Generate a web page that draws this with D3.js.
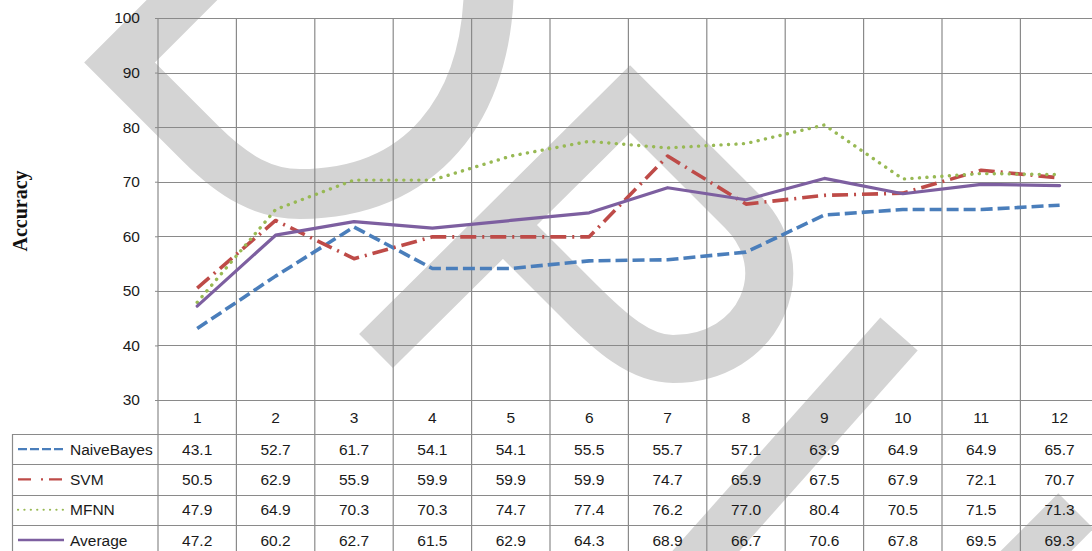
<!DOCTYPE html>
<html>
<head>
<meta charset="utf-8">
<script src="https://cdn.jsdelivr.net/npm/d3@7"></script>
<style>
  html, body { margin: 0; padding: 0; background: #fff; }
  svg { display: block; }
</style>
</head>
<body>
<div id="chart"></div>
<script>
// Accuracy per fold for each classifier
const categories = ['1', '2', '3', '4', '5', '6', '7', '8', '9', '10', '11', '12'];
const naiveBayes = [43.1, 52.7, 61.7, 54.1, 54.1, 55.5, 55.7, 57.1, 63.9, 64.9, 64.9, 65.7];
const svm        = [50.5, 62.9, 55.9, 59.9, 59.9, 59.9, 74.7, 65.9, 67.5, 67.9, 72.1, 70.7];
const mfnn       = [47.9, 64.9, 70.3, 70.3, 74.7, 77.4, 76.2, 77.0, 80.4, 70.5, 71.5, 71.3];
const average    = [47.2, 60.2, 62.7, 61.5, 62.9, 64.3, 68.9, 66.7, 70.6, 67.8, 69.5, 69.3];
const seriesNames = ['NaiveBayes', 'SVM', 'MFNN', 'Average'];
const yTicks = [30, 40, 50, 60, 70, 80, 90, 100];

const W = 1092, H = 551;
const plotLeft = 158, plotTop = 18, plotBottom = 400, colW = 78.4;
const tableLeft = 12, headerBottom = 434, rowH = 30.3;

const series = [
  { name: seriesNames[0], values: naiveBayes, color: '#4a7ebb', width: 3.6, dash: '12 5', cap: 'butt', legendDash: '9 3', legendW: 2.2, legendCap: 'butt' },
  { name: seriesNames[1], values: svm,        color: '#be4b48', width: 3.6, dash: '16 6 2 6', cap: 'butt', legendDash: '13 10 2 6 13', legendW: 2.2, legendCap: 'butt' },
  { name: seriesNames[2], values: mfnn,       color: '#98b954', width: 3.4, dash: '0.1 7.4', cap: 'round', legendDash: '0.1 6.3', legendW: 2.2, legendCap: 'round' },
  { name: seriesNames[3], values: average,    color: '#7d5fa0', width: 3.2, dash: null, cap: 'round', legendDash: null, legendW: 2.4, legendCap: 'butt' }
];

const svg = d3.select('#chart').append('svg')
  .attr('width', W).attr('height', H)
  .attr('font-family', '"Liberation Sans", Arial, sans-serif');

const x = d3.scaleBand().domain(categories)
  .range([plotLeft, plotLeft + colW * categories.length]).paddingInner(0).paddingOuter(0);
const y = d3.scaleLinear().domain([30, 100]).range([plotBottom, plotTop]);

// Background mark strokes
const mark = svg.append('g')
  .attr('fill', 'none').attr('stroke', '#d4d4d4')
  .attr('stroke-linejoin', 'miter').attr('stroke-miterlimit', 10).attr('stroke-linecap', 'butt');
mark.append('path').attr('stroke-width', 50)
  .attr('d', 'M 200,-18 L 119.5,62.5 L 200,143 C 235,178 265,194 300,194 C 420,194 489,110 489,-20');
mark.append('path').attr('stroke-width', 48)
  .attr('d', 'M 376,351 L 630,99 L 742,211 C 800,269 760,359 673,359 C 640,359 610,332 580,302 L 503,225');
mark.append('path').attr('stroke-width', 50)
  .attr('d', 'M 899,334 L 680,580');
mark.append('path').attr('stroke-width', 50)
  .attr('d', 'M 1076,511 L 1000,587');

// Grid
const grid = svg.append('g').attr('stroke', '#8a8a8a').attr('stroke-width', 1.2).attr('fill', 'none');
yTicks.forEach(t => {
  grid.append('line').attr('x1', plotLeft).attr('x2', W + 10)
    .attr('y1', Math.round(y(t)) + 0.5).attr('y2', Math.round(y(t)) + 0.5);
});
const bounds = categories.map(c => x(c)).concat([x.range()[1]]);
bounds.forEach(bx => {
  grid.append('line').attr('x1', bx).attr('x2', bx)
    .attr('y1', plotTop).attr('y2', H + 5);
});
// table rows
for (let r = 0; r <= 4; r++) {
  const ry = Math.round(headerBottom + r * rowH) + 0.5;
  grid.append('line').attr('x1', tableLeft).attr('x2', W + 10).attr('y1', ry).attr('y2', ry);
}
grid.append('line').attr('x1', tableLeft + 0.5).attr('x2', tableLeft + 0.5)
  .attr('y1', headerBottom).attr('y2', H + 5);

// Y axis ticks and labels
const yAxis = d3.axisLeft(y).tickValues(yTicks).tickSize(3).tickPadding(15);
const yg = svg.append('g').attr('transform', `translate(${plotLeft},0)`).call(yAxis);
yg.select('.domain').remove();
yg.selectAll('.tick line').attr('stroke', '#8a8a8a');
yg.selectAll('.tick text')
  .attr('font-family', '"Liberation Sans", Arial, sans-serif')
  .attr('font-size', 15.5).attr('fill', '#1a1a1a');

// Y title
svg.append('text')
  .attr('transform', `translate(27,211) rotate(-90)`)
  .attr('text-anchor', 'middle')
  .attr('font-family', '"Liberation Serif", "Times New Roman", serif')
  .attr('font-weight', 'bold').attr('font-size', 20).attr('fill', '#111')
  .text('Accuracy');

// Category labels (header row of the data table)
const xAxis = d3.axisBottom(x).tickSize(0).tickPadding(0);
const xg = svg.append('g').attr('transform', `translate(0,${plotBottom})`).call(xAxis);
xg.select('.domain').remove();
xg.selectAll('.tick text')
  .attr('font-family', '"Liberation Sans", Arial, sans-serif')
  .attr('font-size', 15.5).attr('fill', '#1a1a1a')
  .attr('dy', null).attr('y', 22.5);

// Lines
const lineGen = d3.line()
  .x((d, i) => x(categories[i]) + x.bandwidth() / 2)
  .y(d => y(d));
series.forEach(s => {
  svg.append('path')
    .datum(s.values)
    .attr('fill', 'none')
    .attr('stroke', s.color)
    .attr('stroke-width', s.width)
    .attr('stroke-linejoin', 'round')
    .attr('stroke-linecap', s.cap)
    .attr('stroke-dasharray', s.dash)
    .attr('d', lineGen);
});

// Data table rows with legend keys
const fmt = d3.format('.1f');
series.forEach((s, r) => {
  const cy = headerBottom + r * rowH + rowH / 2;
  const row = svg.append('g');
  row.append('line')
    .attr('x1', 18).attr('x2', 64).attr('y1', cy).attr('y2', cy)
    .attr('stroke', s.color).attr('stroke-width', s.legendW)
    .attr('stroke-linecap', s.legendCap)
    .attr('stroke-dasharray', s.legendDash);
  row.append('text')
    .attr('x', 70).attr('y', cy).attr('dy', '0.36em')
    .attr('font-size', 15.5).attr('fill', '#1a1a1a')
    .text(s.name);
  row.selectAll('text.v')
    .data(s.values)
    .join('text')
    .attr('class', 'v')
    .attr('x', (d, i) => x(categories[i]) + x.bandwidth() / 2)
    .attr('y', cy).attr('dy', '0.36em')
    .attr('text-anchor', 'middle')
    .attr('font-size', 15.5).attr('fill', '#1a1a1a')
    .text(d => fmt(d));
});
</script>
</body>
</html>
